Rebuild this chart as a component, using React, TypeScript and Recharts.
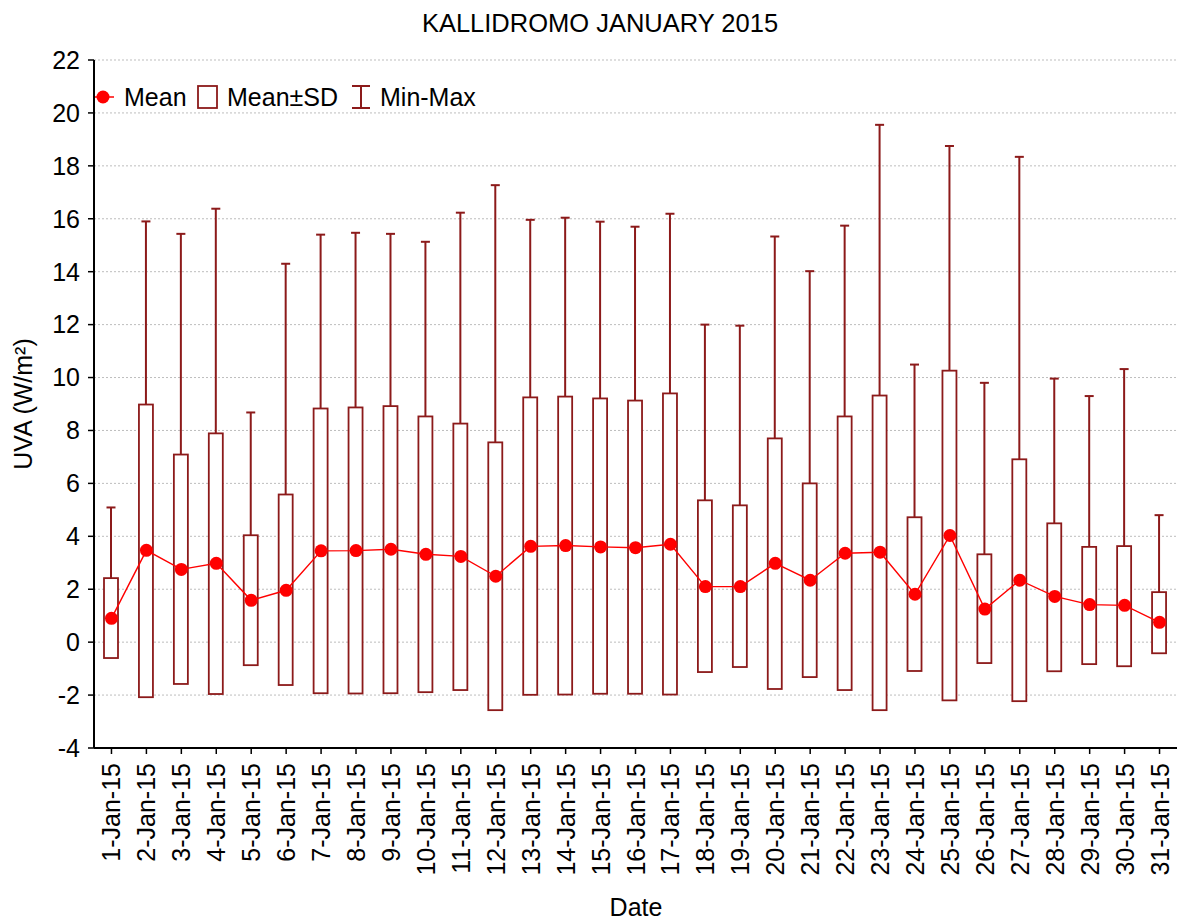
import React from 'react';
import {
  ComposedChart, Bar, Line, XAxis, YAxis, CartesianGrid, Customized,
} from 'recharts';

const dates = [
  '1-Jan-15', '2-Jan-15', '3-Jan-15', '4-Jan-15', '5-Jan-15', '6-Jan-15', '7-Jan-15',
  '8-Jan-15', '9-Jan-15', '10-Jan-15', '11-Jan-15', '12-Jan-15', '13-Jan-15', '14-Jan-15',
  '15-Jan-15', '16-Jan-15', '17-Jan-15', '18-Jan-15', '19-Jan-15', '20-Jan-15', '21-Jan-15',
  '22-Jan-15', '23-Jan-15', '24-Jan-15', '25-Jan-15', '26-Jan-15', '27-Jan-15', '28-Jan-15',
  '29-Jan-15', '30-Jan-15', '31-Jan-15',
];

const means = [
  0.9, 3.47, 2.75, 2.98, 1.58, 1.96, 3.45, 3.46, 3.51, 3.32, 3.24, 2.49, 3.62, 3.65,
  3.6, 3.57, 3.7, 2.1, 2.1, 2.98, 2.34, 3.36, 3.4, 1.81, 4.03, 1.25, 2.34, 1.73, 1.42, 1.39, 0.75,
];

const sdHigh = [
  2.42, 8.98, 7.09, 7.89, 4.04, 5.58, 8.83, 8.87, 8.92, 8.53, 8.26, 7.55, 9.25, 9.28,
  9.21, 9.13, 9.4, 5.36, 5.17, 7.7, 6.0, 8.53, 9.32, 4.72, 10.26, 3.32, 6.91, 4.49, 3.6, 3.63, 1.89,
];

const sdLow = [
  -0.6, -2.08, -1.58, -1.96, -0.87, -1.62, -1.93, -1.94, -1.93, -1.89, -1.81, -2.57, -1.99, -1.98,
  -1.95, -1.95, -1.98, -1.13, -0.94, -1.77, -1.32, -1.81, -2.57, -1.09, -2.2, -0.79, -2.23, -1.1, -0.83, -0.91, -0.42,
];

const maxs = [
  5.09, 15.9, 15.43, 16.38, 8.68, 14.3, 15.4, 15.47, 15.43, 15.13, 16.23, 17.27, 15.96, 16.04,
  15.89, 15.7, 16.19, 12.0, 11.96, 15.33, 14.02, 15.74, 19.55, 10.49, 18.75, 9.8, 18.34, 9.96, 9.3, 10.32, 4.8,
];

const mins = [
  0, 0, 0, 0, 0, 0, 0, 0, 0, 0, 0, 0, 0, 0, 0, 0, 0, 0, 0, 0, 0, 0, 0, 0, 0, 0, 0, 0, 0, 0, 0,
];

const yTicks = [-4, -2, 0, 2, 4, 6, 8, 10, 12, 14, 16, 18, 20, 22];

const data = dates.map((d, i) => ({
  date: d,
  mean: means[i],
  range: [mins[i], maxs[i]],
  sdHi: sdHigh[i],
  sdLo: sdLow[i],
  max: maxs[i],
  min: mins[i],
}));

const BOX = '#8c1a1a';
const RED = '#ff0000';
const FONT = 'Liberation Sans, Arial, sans-serif';

const BoxShape = (props: any) => {
  const { x, y, width, height, payload } = props;
  const { min, max, sdHi, sdLo } = payload;
  const top = Math.min(y, y + height);
  const bot = Math.max(y, y + height);
  const yv = (v: number) => bot - ((v - min) / (max - min)) * (bot - top);
  const cx = x + width / 2;
  const yMax = yv(max);
  const yMin = yv(min);
  const yHi = yv(sdHi);
  const yLo = yv(sdLo);
  return (
    <g>
      <line x1={cx} x2={cx} y1={yMin} y2={yMax} stroke={BOX} strokeWidth={2} />
      <line x1={cx - 4.5} x2={cx + 4.5} y1={yMax} y2={yMax} stroke={BOX} strokeWidth={2} />
      <line x1={cx - 4.5} x2={cx + 4.5} y1={yMin} y2={yMin} stroke={BOX} strokeWidth={2} />
      <rect x={x} y={yHi} width={width} height={yLo - yHi} fill="#fff" stroke={BOX} strokeWidth={1.8} />
    </g>
  );
};

const XTick = (props: any) => {
  const { x, y, payload } = props;
  return (
    <text
      x={x}
      y={y}
      transform={`rotate(-90, ${x}, ${y})`}
      textAnchor="end"
      dy="0.36em"
      fontSize={25}
      fontFamily={FONT}
      fill="#000"
    >
      {payload.value}
    </text>
  );
};

const Overlay = () => (
  <g fontFamily={FONT} fill="#000">
    <text x={600} y={32} textAnchor="middle" fontSize={25.5}>KALLIDROMO JANUARY 2015</text>
    <text x={32} y={404} transform="rotate(-90, 32, 404)" textAnchor="middle" fontSize={25}>UVA (W/m²)</text>
    <text x={636} y={916} textAnchor="middle" fontSize={25}>Date</text>
    <line x1={95} x2={114} y1={97} y2={97} stroke={RED} strokeWidth={1.5} />
    <circle cx={103} cy={97} r={6.5} fill={RED} />
    <text x={124} y={106} fontSize={25}>Mean</text>
    <rect x={198} y={86} width={19} height={22} fill="#fff" stroke={BOX} strokeWidth={1.8} />
    <text x={227} y={106} fontSize={25}>Mean±SD</text>
    <line x1={361} x2={361} y1={86} y2={108} stroke={BOX} strokeWidth={2} />
    <line x1={352} x2={370} y1={86} y2={86} stroke={BOX} strokeWidth={2} />
    <line x1={352} x2={370} y1={108} y2={108} stroke={BOX} strokeWidth={2} />
    <text x={380} y={106} fontSize={25}>Min-Max</text>
  </g>
);

export default function App() {
  return (
    <div style={{ position: 'absolute', left: 0, top: 0, width: 1181, height: 922, background: '#fff' }}>
      <ComposedChart
        width={1181}
        height={922}
        data={data}
        margin={{ top: 60, right: 4, bottom: 0, left: 0 }}
      >
        <CartesianGrid
          vertical={false}
          stroke="#bdbdbd"
          strokeDasharray="2 2"
          yAxisId="left"
          xAxisId="bottom"
        />
        <XAxis
          xAxisId="bottom"
          dataKey="date"
          height={174}
          interval={0}
          tickSize={6}
          tickMargin={9}
          tick={<XTick />}
          axisLine={{ stroke: '#000', strokeWidth: 2 }}
          tickLine={{ stroke: '#000', strokeWidth: 1.5 }}
        />
        <XAxis
          xAxisId="top"
          dataKey="date"
          orientation="top"
          height={0}
          interval={0}
          mirror
          tickSize={6}
          tickFormatter={() => ''}
          axisLine={{ stroke: '#000', strokeWidth: 2 }}
          tickLine={{ stroke: '#000', strokeWidth: 1.5 }}
        />
        <YAxis
          yAxisId="left"
          width={94}
          domain={[-4, 22]}
          ticks={yTicks}
          interval={0}
          tickSize={6}
          tickMargin={8}
          tick={{ fontSize: 25, fill: '#000', fontFamily: FONT }}
          axisLine={{ stroke: '#000', strokeWidth: 2 }}
          tickLine={{ stroke: '#000', strokeWidth: 1.5 }}
        />
        <YAxis
          yAxisId="right"
          orientation="right"
          width={0}
          domain={[-4, 22]}
          ticks={yTicks}
          interval={0}
          mirror
          tickSize={6}
          tickFormatter={() => ''}
          axisLine={{ stroke: '#000', strokeWidth: 2 }}
          tickLine={{ stroke: '#000', strokeWidth: 1.5 }}
        />
        <Bar
          xAxisId="bottom"
          yAxisId="left"
          dataKey="range"
          barSize={14}
          shape={<BoxShape />}
          isAnimationActive={false}
        />
        <Line
          xAxisId="top"
          yAxisId="right"
          dataKey="mean"
          stroke={RED}
          strokeWidth={1.4}
          dot={{ r: 6.5, fill: RED, stroke: 'none' }}
          activeDot={false}
          isAnimationActive={false}
        />
        <Customized component={Overlay} />
      </ComposedChart>
    </div>
  );
}
